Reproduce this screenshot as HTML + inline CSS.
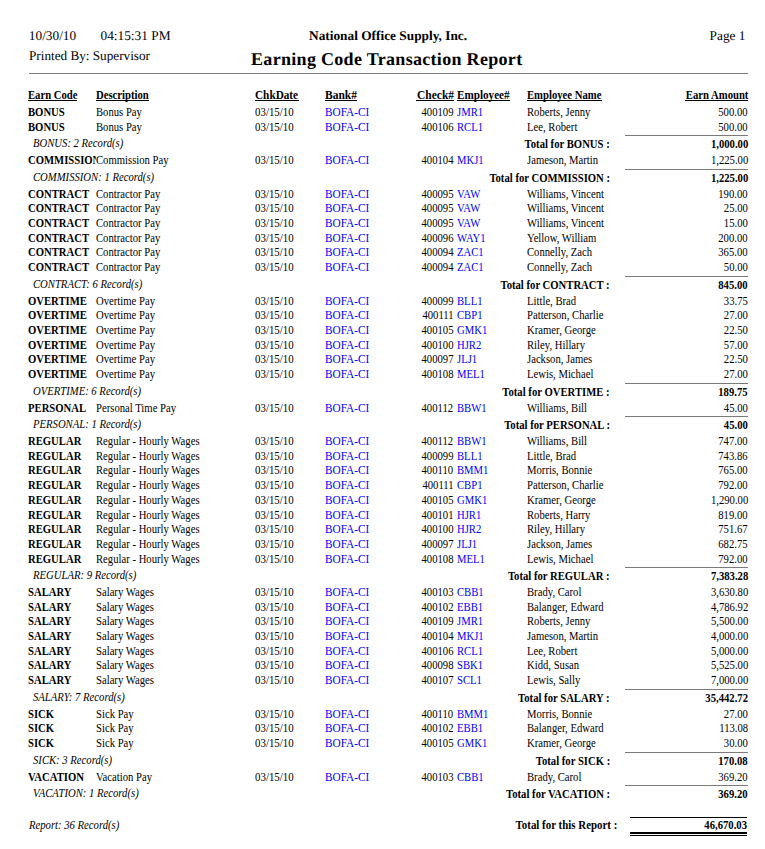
<!DOCTYPE html>
<html><head><meta charset="utf-8"><title>Earning Code Transaction Report</title>
<style>
html,body{margin:0;padding:0;background:#fff;}
body{width:765px;height:849px;position:relative;overflow:hidden;font-family:"Liberation Serif","Times New Roman",serif;color:#000;}
.t{position:absolute;white-space:nowrap;line-height:1;}
.b{font-weight:bold;}
.i{font-style:italic;}
.bl{color:#0000ff;}
.gp{text-rendering:geometricPrecision;}
.l{position:absolute;}
</style></head><body>
<div class="l" style="left:29px;top:73px;width:719px;height:1px;background:#7a7a7a"></div>
<div class="l" style="left:28px;top:100px;width:49px;height:1px;background:#000"></div>
<div class="l" style="left:96px;top:100px;width:53px;height:1px;background:#000"></div>
<div class="l" style="left:255px;top:100px;width:44px;height:1px;background:#000"></div>
<div class="l" style="left:325px;top:100px;width:32px;height:1px;background:#000"></div>
<div class="l" style="left:416px;top:100px;width:38px;height:1px;background:#000"></div>
<div class="l" style="left:457px;top:100px;width:53px;height:1px;background:#000"></div>
<div class="l" style="left:527px;top:100px;width:75px;height:1px;background:#000"></div>
<div class="l" style="left:685px;top:100px;width:63px;height:1px;background:#000"></div>
<div class="l" style="left:625px;top:135px;width:123px;height:1px;background:#7a7a7a"></div>
<div class="l" style="left:625px;top:169px;width:123px;height:1px;background:#7a7a7a"></div>
<div class="l" style="left:625px;top:276px;width:123px;height:1px;background:#7a7a7a"></div>
<div class="l" style="left:625px;top:383px;width:123px;height:1px;background:#7a7a7a"></div>
<div class="l" style="left:625px;top:416px;width:123px;height:1px;background:#7a7a7a"></div>
<div class="l" style="left:625px;top:567px;width:123px;height:1px;background:#7a7a7a"></div>
<div class="l" style="left:625px;top:689px;width:123px;height:1px;background:#7a7a7a"></div>
<div class="l" style="left:625px;top:752px;width:123px;height:1px;background:#7a7a7a"></div>
<div class="l" style="left:625px;top:785px;width:123px;height:1px;background:#7a7a7a"></div>
<div class="l" style="left:630px;top:817px;width:117px;height:1px;background:#000"></div>
<div class="l" style="left:630px;top:832px;width:117px;height:2px;background:#000"></div>
<div class="l" style="left:630px;top:835px;width:117px;height:1px;background:#000"></div>
<div class="t gp" style="left:28.80px;top:29px;font-size:13.33px;">10/30/10</div>
<div class="t gp" style="left:100.50px;top:29px;font-size:13.33px;">04:15:31 PM</div>
<div class="t gp" style="left:28.90px;top:49px;font-size:13.33px;transform:scaleX(0.9900);transform-origin:left;">Printed By: Supervisor</div>
<div class="t b gp" style="left:309.00px;top:29px;font-size:13.33px;">National Office Supply, Inc.</div>
<div class="t b gp" style="left:251.00px;top:50px;font-size:18.0px;letter-spacing:0.31px">Earning Code Transaction Report</div>
<div class="t gp" style="right:19.50px;top:29px;font-size:13.33px;">Page 1</div>
<div class="t b" style="left:28.00px;top:90px;font-size:11.5px;transform:scaleX(0.9278);transform-origin:left;">Earn Code</div>
<div class="t b" style="left:96.00px;top:90px;font-size:11.5px;transform:scaleX(0.9278);transform-origin:left;">Description</div>
<div class="t b" style="left:255.30px;top:90px;font-size:11.5px;transform:scaleX(0.9779);transform-origin:left;">ChkDate</div>
<div class="t b" style="left:325.00px;top:90px;font-size:11.5px;">Bank#</div>
<div class="t b" style="left:416.50px;top:90px;font-size:11.5px;transform:scaleX(1.0021);transform-origin:left;">Check#</div>
<div class="t b" style="left:457.20px;top:90px;font-size:11.5px;transform:scaleX(0.9687);transform-origin:left;">Employee#</div>
<div class="t b" style="left:527.20px;top:90px;font-size:11.5px;transform:scaleX(0.9278);transform-origin:left;">Employee Name</div>
<div class="t b" style="right:17.00px;top:90px;font-size:11.5px;transform:scaleX(0.9278);transform-origin:right;">Earn Amount</div>
<div class="t b" style="left:28.00px;top:107px;font-size:11.5px;transform:scaleX(0.9278);transform-origin:left;width:73.29px;overflow:hidden">BONUS</div>
<div class="t " style="left:96.00px;top:107px;font-size:11.5px;transform:scaleX(0.9278);transform-origin:left;">Bonus Pay</div>
<div class="t " style="left:254.80px;top:107px;font-size:11.5px;transform:scaleX(0.9464);transform-origin:left;">03/15/10</div>
<div class="t bl" style="left:325.00px;top:107px;font-size:11.5px;transform:scaleX(0.9789);transform-origin:left;">BOFA-CI</div>
<div class="t " style="right:311.50px;top:107px;font-size:11.5px;transform:scaleX(0.9278);transform-origin:right;">400109</div>
<div class="t bl" style="left:457.00px;top:107px;font-size:11.5px;transform:scaleX(0.9278);transform-origin:left;">JMR1</div>
<div class="t " style="left:527.20px;top:107px;font-size:11.5px;transform:scaleX(0.9278);transform-origin:left;">Roberts, Jenny</div>
<div class="t " style="right:17.00px;top:107px;font-size:11.5px;transform:scaleX(0.9278);transform-origin:right;">500.00</div>
<div class="t b" style="left:28.00px;top:122px;font-size:11.5px;transform:scaleX(0.9278);transform-origin:left;width:73.29px;overflow:hidden">BONUS</div>
<div class="t " style="left:96.00px;top:122px;font-size:11.5px;transform:scaleX(0.9278);transform-origin:left;">Bonus Pay</div>
<div class="t " style="left:254.80px;top:122px;font-size:11.5px;transform:scaleX(0.9464);transform-origin:left;">03/15/10</div>
<div class="t bl" style="left:325.00px;top:122px;font-size:11.5px;transform:scaleX(0.9789);transform-origin:left;">BOFA-CI</div>
<div class="t " style="right:311.50px;top:122px;font-size:11.5px;transform:scaleX(0.9278);transform-origin:right;">400106</div>
<div class="t bl" style="left:457.00px;top:122px;font-size:11.5px;transform:scaleX(0.9278);transform-origin:left;">RCL1</div>
<div class="t " style="left:527.20px;top:122px;font-size:11.5px;transform:scaleX(0.9278);transform-origin:left;">Lee, Robert</div>
<div class="t " style="right:17.00px;top:122px;font-size:11.5px;transform:scaleX(0.9278);transform-origin:right;">500.00</div>
<div class="t i" style="left:32.50px;top:138px;font-size:11.5px;transform:scaleX(0.9278);transform-origin:left;">BONUS: 2 Record(s)</div>
<div class="t b" style="right:155.00px;top:139px;font-size:11.5px;transform:scaleX(0.9278);transform-origin:right;">Total for BONUS :</div>
<div class="t b" style="right:17.00px;top:139px;font-size:11.5px;transform:scaleX(0.9278);transform-origin:right;">1,000.00</div>
<div class="t b" style="left:28.00px;top:155px;font-size:11.5px;transform:scaleX(0.9278);transform-origin:left;width:73.29px;overflow:hidden">COMMISSION</div>
<div class="t " style="left:96.00px;top:155px;font-size:11.5px;transform:scaleX(0.9278);transform-origin:left;">Commission Pay</div>
<div class="t " style="left:254.80px;top:155px;font-size:11.5px;transform:scaleX(0.9464);transform-origin:left;">03/15/10</div>
<div class="t bl" style="left:325.00px;top:155px;font-size:11.5px;transform:scaleX(0.9789);transform-origin:left;">BOFA-CI</div>
<div class="t " style="right:311.50px;top:155px;font-size:11.5px;transform:scaleX(0.9278);transform-origin:right;">400104</div>
<div class="t bl" style="left:457.00px;top:155px;font-size:11.5px;transform:scaleX(0.9278);transform-origin:left;">MKJ1</div>
<div class="t " style="left:527.20px;top:155px;font-size:11.5px;transform:scaleX(0.9278);transform-origin:left;">Jameson, Martin</div>
<div class="t " style="right:17.00px;top:155px;font-size:11.5px;transform:scaleX(0.9278);transform-origin:right;">1,225.00</div>
<div class="t i" style="left:32.50px;top:172px;font-size:11.5px;transform:scaleX(0.9278);transform-origin:left;">COMMISSION: 1 Record(s)</div>
<div class="t b" style="right:155.00px;top:173px;font-size:11.5px;transform:scaleX(0.9278);transform-origin:right;">Total for COMMISSION :</div>
<div class="t b" style="right:17.00px;top:173px;font-size:11.5px;transform:scaleX(0.9278);transform-origin:right;">1,225.00</div>
<div class="t b" style="left:28.00px;top:189px;font-size:11.5px;transform:scaleX(0.9278);transform-origin:left;width:73.29px;overflow:hidden">CONTRACT</div>
<div class="t " style="left:96.00px;top:189px;font-size:11.5px;transform:scaleX(0.9278);transform-origin:left;">Contractor Pay</div>
<div class="t " style="left:254.80px;top:189px;font-size:11.5px;transform:scaleX(0.9464);transform-origin:left;">03/15/10</div>
<div class="t bl" style="left:325.00px;top:189px;font-size:11.5px;transform:scaleX(0.9789);transform-origin:left;">BOFA-CI</div>
<div class="t " style="right:311.50px;top:189px;font-size:11.5px;transform:scaleX(0.9278);transform-origin:right;">400095</div>
<div class="t bl" style="left:457.00px;top:189px;font-size:11.5px;transform:scaleX(0.9278);transform-origin:left;">VAW</div>
<div class="t " style="left:527.20px;top:189px;font-size:11.5px;transform:scaleX(0.9278);transform-origin:left;">Williams, Vincent</div>
<div class="t " style="right:17.00px;top:189px;font-size:11.5px;transform:scaleX(0.9278);transform-origin:right;">190.00</div>
<div class="t b" style="left:28.00px;top:203px;font-size:11.5px;transform:scaleX(0.9278);transform-origin:left;width:73.29px;overflow:hidden">CONTRACT</div>
<div class="t " style="left:96.00px;top:203px;font-size:11.5px;transform:scaleX(0.9278);transform-origin:left;">Contractor Pay</div>
<div class="t " style="left:254.80px;top:203px;font-size:11.5px;transform:scaleX(0.9464);transform-origin:left;">03/15/10</div>
<div class="t bl" style="left:325.00px;top:203px;font-size:11.5px;transform:scaleX(0.9789);transform-origin:left;">BOFA-CI</div>
<div class="t " style="right:311.50px;top:203px;font-size:11.5px;transform:scaleX(0.9278);transform-origin:right;">400095</div>
<div class="t bl" style="left:457.00px;top:203px;font-size:11.5px;transform:scaleX(0.9278);transform-origin:left;">VAW</div>
<div class="t " style="left:527.20px;top:203px;font-size:11.5px;transform:scaleX(0.9278);transform-origin:left;">Williams, Vincent</div>
<div class="t " style="right:17.00px;top:203px;font-size:11.5px;transform:scaleX(0.9278);transform-origin:right;">25.00</div>
<div class="t b" style="left:28.00px;top:218px;font-size:11.5px;transform:scaleX(0.9278);transform-origin:left;width:73.29px;overflow:hidden">CONTRACT</div>
<div class="t " style="left:96.00px;top:218px;font-size:11.5px;transform:scaleX(0.9278);transform-origin:left;">Contractor Pay</div>
<div class="t " style="left:254.80px;top:218px;font-size:11.5px;transform:scaleX(0.9464);transform-origin:left;">03/15/10</div>
<div class="t bl" style="left:325.00px;top:218px;font-size:11.5px;transform:scaleX(0.9789);transform-origin:left;">BOFA-CI</div>
<div class="t " style="right:311.50px;top:218px;font-size:11.5px;transform:scaleX(0.9278);transform-origin:right;">400095</div>
<div class="t bl" style="left:457.00px;top:218px;font-size:11.5px;transform:scaleX(0.9278);transform-origin:left;">VAW</div>
<div class="t " style="left:527.20px;top:218px;font-size:11.5px;transform:scaleX(0.9278);transform-origin:left;">Williams, Vincent</div>
<div class="t " style="right:17.00px;top:218px;font-size:11.5px;transform:scaleX(0.9278);transform-origin:right;">15.00</div>
<div class="t b" style="left:28.00px;top:233px;font-size:11.5px;transform:scaleX(0.9278);transform-origin:left;width:73.29px;overflow:hidden">CONTRACT</div>
<div class="t " style="left:96.00px;top:233px;font-size:11.5px;transform:scaleX(0.9278);transform-origin:left;">Contractor Pay</div>
<div class="t " style="left:254.80px;top:233px;font-size:11.5px;transform:scaleX(0.9464);transform-origin:left;">03/15/10</div>
<div class="t bl" style="left:325.00px;top:233px;font-size:11.5px;transform:scaleX(0.9789);transform-origin:left;">BOFA-CI</div>
<div class="t " style="right:311.50px;top:233px;font-size:11.5px;transform:scaleX(0.9278);transform-origin:right;">400096</div>
<div class="t bl" style="left:457.00px;top:233px;font-size:11.5px;transform:scaleX(0.9278);transform-origin:left;">WAY1</div>
<div class="t " style="left:527.20px;top:233px;font-size:11.5px;transform:scaleX(0.9278);transform-origin:left;">Yellow, William</div>
<div class="t " style="right:17.00px;top:233px;font-size:11.5px;transform:scaleX(0.9278);transform-origin:right;">200.00</div>
<div class="t b" style="left:28.00px;top:247px;font-size:11.5px;transform:scaleX(0.9278);transform-origin:left;width:73.29px;overflow:hidden">CONTRACT</div>
<div class="t " style="left:96.00px;top:247px;font-size:11.5px;transform:scaleX(0.9278);transform-origin:left;">Contractor Pay</div>
<div class="t " style="left:254.80px;top:247px;font-size:11.5px;transform:scaleX(0.9464);transform-origin:left;">03/15/10</div>
<div class="t bl" style="left:325.00px;top:247px;font-size:11.5px;transform:scaleX(0.9789);transform-origin:left;">BOFA-CI</div>
<div class="t " style="right:311.50px;top:247px;font-size:11.5px;transform:scaleX(0.9278);transform-origin:right;">400094</div>
<div class="t bl" style="left:457.00px;top:247px;font-size:11.5px;transform:scaleX(0.9278);transform-origin:left;">ZAC1</div>
<div class="t " style="left:527.20px;top:247px;font-size:11.5px;transform:scaleX(0.9278);transform-origin:left;">Connelly, Zach</div>
<div class="t " style="right:17.00px;top:247px;font-size:11.5px;transform:scaleX(0.9278);transform-origin:right;">365.00</div>
<div class="t b" style="left:28.00px;top:262px;font-size:11.5px;transform:scaleX(0.9278);transform-origin:left;width:73.29px;overflow:hidden">CONTRACT</div>
<div class="t " style="left:96.00px;top:262px;font-size:11.5px;transform:scaleX(0.9278);transform-origin:left;">Contractor Pay</div>
<div class="t " style="left:254.80px;top:262px;font-size:11.5px;transform:scaleX(0.9464);transform-origin:left;">03/15/10</div>
<div class="t bl" style="left:325.00px;top:262px;font-size:11.5px;transform:scaleX(0.9789);transform-origin:left;">BOFA-CI</div>
<div class="t " style="right:311.50px;top:262px;font-size:11.5px;transform:scaleX(0.9278);transform-origin:right;">400094</div>
<div class="t bl" style="left:457.00px;top:262px;font-size:11.5px;transform:scaleX(0.9278);transform-origin:left;">ZAC1</div>
<div class="t " style="left:527.20px;top:262px;font-size:11.5px;transform:scaleX(0.9278);transform-origin:left;">Connelly, Zach</div>
<div class="t " style="right:17.00px;top:262px;font-size:11.5px;transform:scaleX(0.9278);transform-origin:right;">50.00</div>
<div class="t i" style="left:32.50px;top:279px;font-size:11.5px;transform:scaleX(0.9278);transform-origin:left;">CONTRACT: 6 Record(s)</div>
<div class="t b" style="right:155.00px;top:280px;font-size:11.5px;transform:scaleX(0.9278);transform-origin:right;">Total for CONTRACT :</div>
<div class="t b" style="right:17.00px;top:280px;font-size:11.5px;transform:scaleX(0.9278);transform-origin:right;">845.00</div>
<div class="t b" style="left:28.00px;top:296px;font-size:11.5px;transform:scaleX(0.9278);transform-origin:left;width:73.29px;overflow:hidden">OVERTIME</div>
<div class="t " style="left:96.00px;top:296px;font-size:11.5px;transform:scaleX(0.9278);transform-origin:left;">Overtime Pay</div>
<div class="t " style="left:254.80px;top:296px;font-size:11.5px;transform:scaleX(0.9464);transform-origin:left;">03/15/10</div>
<div class="t bl" style="left:325.00px;top:296px;font-size:11.5px;transform:scaleX(0.9789);transform-origin:left;">BOFA-CI</div>
<div class="t " style="right:311.50px;top:296px;font-size:11.5px;transform:scaleX(0.9278);transform-origin:right;">400099</div>
<div class="t bl" style="left:457.00px;top:296px;font-size:11.5px;transform:scaleX(0.9278);transform-origin:left;">BLL1</div>
<div class="t " style="left:527.20px;top:296px;font-size:11.5px;transform:scaleX(0.9278);transform-origin:left;">Little, Brad</div>
<div class="t " style="right:17.00px;top:296px;font-size:11.5px;transform:scaleX(0.9278);transform-origin:right;">33.75</div>
<div class="t b" style="left:28.00px;top:310px;font-size:11.5px;transform:scaleX(0.9278);transform-origin:left;width:73.29px;overflow:hidden">OVERTIME</div>
<div class="t " style="left:96.00px;top:310px;font-size:11.5px;transform:scaleX(0.9278);transform-origin:left;">Overtime Pay</div>
<div class="t " style="left:254.80px;top:310px;font-size:11.5px;transform:scaleX(0.9464);transform-origin:left;">03/15/10</div>
<div class="t bl" style="left:325.00px;top:310px;font-size:11.5px;transform:scaleX(0.9789);transform-origin:left;">BOFA-CI</div>
<div class="t " style="right:311.50px;top:310px;font-size:11.5px;transform:scaleX(0.9278);transform-origin:right;">400111</div>
<div class="t bl" style="left:457.00px;top:310px;font-size:11.5px;transform:scaleX(0.9278);transform-origin:left;">CBP1</div>
<div class="t " style="left:527.20px;top:310px;font-size:11.5px;transform:scaleX(0.9278);transform-origin:left;">Patterson, Charlie</div>
<div class="t " style="right:17.00px;top:310px;font-size:11.5px;transform:scaleX(0.9278);transform-origin:right;">27.00</div>
<div class="t b" style="left:28.00px;top:325px;font-size:11.5px;transform:scaleX(0.9278);transform-origin:left;width:73.29px;overflow:hidden">OVERTIME</div>
<div class="t " style="left:96.00px;top:325px;font-size:11.5px;transform:scaleX(0.9278);transform-origin:left;">Overtime Pay</div>
<div class="t " style="left:254.80px;top:325px;font-size:11.5px;transform:scaleX(0.9464);transform-origin:left;">03/15/10</div>
<div class="t bl" style="left:325.00px;top:325px;font-size:11.5px;transform:scaleX(0.9789);transform-origin:left;">BOFA-CI</div>
<div class="t " style="right:311.50px;top:325px;font-size:11.5px;transform:scaleX(0.9278);transform-origin:right;">400105</div>
<div class="t bl" style="left:457.00px;top:325px;font-size:11.5px;transform:scaleX(0.9278);transform-origin:left;">GMK1</div>
<div class="t " style="left:527.20px;top:325px;font-size:11.5px;transform:scaleX(0.9278);transform-origin:left;">Kramer, George</div>
<div class="t " style="right:17.00px;top:325px;font-size:11.5px;transform:scaleX(0.9278);transform-origin:right;">22.50</div>
<div class="t b" style="left:28.00px;top:340px;font-size:11.5px;transform:scaleX(0.9278);transform-origin:left;width:73.29px;overflow:hidden">OVERTIME</div>
<div class="t " style="left:96.00px;top:340px;font-size:11.5px;transform:scaleX(0.9278);transform-origin:left;">Overtime Pay</div>
<div class="t " style="left:254.80px;top:340px;font-size:11.5px;transform:scaleX(0.9464);transform-origin:left;">03/15/10</div>
<div class="t bl" style="left:325.00px;top:340px;font-size:11.5px;transform:scaleX(0.9789);transform-origin:left;">BOFA-CI</div>
<div class="t " style="right:311.50px;top:340px;font-size:11.5px;transform:scaleX(0.9278);transform-origin:right;">400100</div>
<div class="t bl" style="left:457.00px;top:340px;font-size:11.5px;transform:scaleX(0.9278);transform-origin:left;">HJR2</div>
<div class="t " style="left:527.20px;top:340px;font-size:11.5px;transform:scaleX(0.9278);transform-origin:left;">Riley, Hillary</div>
<div class="t " style="right:17.00px;top:340px;font-size:11.5px;transform:scaleX(0.9278);transform-origin:right;">57.00</div>
<div class="t b" style="left:28.00px;top:354px;font-size:11.5px;transform:scaleX(0.9278);transform-origin:left;width:73.29px;overflow:hidden">OVERTIME</div>
<div class="t " style="left:96.00px;top:354px;font-size:11.5px;transform:scaleX(0.9278);transform-origin:left;">Overtime Pay</div>
<div class="t " style="left:254.80px;top:354px;font-size:11.5px;transform:scaleX(0.9464);transform-origin:left;">03/15/10</div>
<div class="t bl" style="left:325.00px;top:354px;font-size:11.5px;transform:scaleX(0.9789);transform-origin:left;">BOFA-CI</div>
<div class="t " style="right:311.50px;top:354px;font-size:11.5px;transform:scaleX(0.9278);transform-origin:right;">400097</div>
<div class="t bl" style="left:457.00px;top:354px;font-size:11.5px;transform:scaleX(0.9278);transform-origin:left;">JLJ1</div>
<div class="t " style="left:527.20px;top:354px;font-size:11.5px;transform:scaleX(0.9278);transform-origin:left;">Jackson, James</div>
<div class="t " style="right:17.00px;top:354px;font-size:11.5px;transform:scaleX(0.9278);transform-origin:right;">22.50</div>
<div class="t b" style="left:28.00px;top:369px;font-size:11.5px;transform:scaleX(0.9278);transform-origin:left;width:73.29px;overflow:hidden">OVERTIME</div>
<div class="t " style="left:96.00px;top:369px;font-size:11.5px;transform:scaleX(0.9278);transform-origin:left;">Overtime Pay</div>
<div class="t " style="left:254.80px;top:369px;font-size:11.5px;transform:scaleX(0.9464);transform-origin:left;">03/15/10</div>
<div class="t bl" style="left:325.00px;top:369px;font-size:11.5px;transform:scaleX(0.9789);transform-origin:left;">BOFA-CI</div>
<div class="t " style="right:311.50px;top:369px;font-size:11.5px;transform:scaleX(0.9278);transform-origin:right;">400108</div>
<div class="t bl" style="left:457.00px;top:369px;font-size:11.5px;transform:scaleX(0.9278);transform-origin:left;">MEL1</div>
<div class="t " style="left:527.20px;top:369px;font-size:11.5px;transform:scaleX(0.9278);transform-origin:left;">Lewis, Michael</div>
<div class="t " style="right:17.00px;top:369px;font-size:11.5px;transform:scaleX(0.9278);transform-origin:right;">27.00</div>
<div class="t i" style="left:32.50px;top:386px;font-size:11.5px;transform:scaleX(0.9278);transform-origin:left;">OVERTIME: 6 Record(s)</div>
<div class="t b" style="right:155.00px;top:387px;font-size:11.5px;transform:scaleX(0.9278);transform-origin:right;">Total for OVERTIME :</div>
<div class="t b" style="right:17.00px;top:387px;font-size:11.5px;transform:scaleX(0.9278);transform-origin:right;">189.75</div>
<div class="t b" style="left:28.00px;top:403px;font-size:11.5px;transform:scaleX(0.9278);transform-origin:left;width:73.29px;overflow:hidden">PERSONAL</div>
<div class="t " style="left:96.00px;top:403px;font-size:11.5px;transform:scaleX(0.9278);transform-origin:left;">Personal Time Pay</div>
<div class="t " style="left:254.80px;top:403px;font-size:11.5px;transform:scaleX(0.9464);transform-origin:left;">03/15/10</div>
<div class="t bl" style="left:325.00px;top:403px;font-size:11.5px;transform:scaleX(0.9789);transform-origin:left;">BOFA-CI</div>
<div class="t " style="right:311.50px;top:403px;font-size:11.5px;transform:scaleX(0.9278);transform-origin:right;">400112</div>
<div class="t bl" style="left:457.00px;top:403px;font-size:11.5px;transform:scaleX(0.9278);transform-origin:left;">BBW1</div>
<div class="t " style="left:527.20px;top:403px;font-size:11.5px;transform:scaleX(0.9278);transform-origin:left;">Williams, Bill</div>
<div class="t " style="right:17.00px;top:403px;font-size:11.5px;transform:scaleX(0.9278);transform-origin:right;">45.00</div>
<div class="t i" style="left:32.50px;top:419px;font-size:11.5px;transform:scaleX(0.9278);transform-origin:left;">PERSONAL: 1 Record(s)</div>
<div class="t b" style="right:155.00px;top:420px;font-size:11.5px;transform:scaleX(0.9278);transform-origin:right;">Total for PERSONAL :</div>
<div class="t b" style="right:17.00px;top:420px;font-size:11.5px;transform:scaleX(0.9278);transform-origin:right;">45.00</div>
<div class="t b" style="left:28.00px;top:436px;font-size:11.5px;transform:scaleX(0.9278);transform-origin:left;width:73.29px;overflow:hidden">REGULAR</div>
<div class="t " style="left:96.00px;top:436px;font-size:11.5px;transform:scaleX(0.9278);transform-origin:left;">Regular - Hourly Wages</div>
<div class="t " style="left:254.80px;top:436px;font-size:11.5px;transform:scaleX(0.9464);transform-origin:left;">03/15/10</div>
<div class="t bl" style="left:325.00px;top:436px;font-size:11.5px;transform:scaleX(0.9789);transform-origin:left;">BOFA-CI</div>
<div class="t " style="right:311.50px;top:436px;font-size:11.5px;transform:scaleX(0.9278);transform-origin:right;">400112</div>
<div class="t bl" style="left:457.00px;top:436px;font-size:11.5px;transform:scaleX(0.9278);transform-origin:left;">BBW1</div>
<div class="t " style="left:527.20px;top:436px;font-size:11.5px;transform:scaleX(0.9278);transform-origin:left;">Williams, Bill</div>
<div class="t " style="right:17.00px;top:436px;font-size:11.5px;transform:scaleX(0.9278);transform-origin:right;">747.00</div>
<div class="t b" style="left:28.00px;top:451px;font-size:11.5px;transform:scaleX(0.9278);transform-origin:left;width:73.29px;overflow:hidden">REGULAR</div>
<div class="t " style="left:96.00px;top:451px;font-size:11.5px;transform:scaleX(0.9278);transform-origin:left;">Regular - Hourly Wages</div>
<div class="t " style="left:254.80px;top:451px;font-size:11.5px;transform:scaleX(0.9464);transform-origin:left;">03/15/10</div>
<div class="t bl" style="left:325.00px;top:451px;font-size:11.5px;transform:scaleX(0.9789);transform-origin:left;">BOFA-CI</div>
<div class="t " style="right:311.50px;top:451px;font-size:11.5px;transform:scaleX(0.9278);transform-origin:right;">400099</div>
<div class="t bl" style="left:457.00px;top:451px;font-size:11.5px;transform:scaleX(0.9278);transform-origin:left;">BLL1</div>
<div class="t " style="left:527.20px;top:451px;font-size:11.5px;transform:scaleX(0.9278);transform-origin:left;">Little, Brad</div>
<div class="t " style="right:17.00px;top:451px;font-size:11.5px;transform:scaleX(0.9278);transform-origin:right;">743.86</div>
<div class="t b" style="left:28.00px;top:465px;font-size:11.5px;transform:scaleX(0.9278);transform-origin:left;width:73.29px;overflow:hidden">REGULAR</div>
<div class="t " style="left:96.00px;top:465px;font-size:11.5px;transform:scaleX(0.9278);transform-origin:left;">Regular - Hourly Wages</div>
<div class="t " style="left:254.80px;top:465px;font-size:11.5px;transform:scaleX(0.9464);transform-origin:left;">03/15/10</div>
<div class="t bl" style="left:325.00px;top:465px;font-size:11.5px;transform:scaleX(0.9789);transform-origin:left;">BOFA-CI</div>
<div class="t " style="right:311.50px;top:465px;font-size:11.5px;transform:scaleX(0.9278);transform-origin:right;">400110</div>
<div class="t bl" style="left:457.00px;top:465px;font-size:11.5px;transform:scaleX(0.9278);transform-origin:left;">BMM1</div>
<div class="t " style="left:527.20px;top:465px;font-size:11.5px;transform:scaleX(0.9278);transform-origin:left;">Morris, Bonnie</div>
<div class="t " style="right:17.00px;top:465px;font-size:11.5px;transform:scaleX(0.9278);transform-origin:right;">765.00</div>
<div class="t b" style="left:28.00px;top:480px;font-size:11.5px;transform:scaleX(0.9278);transform-origin:left;width:73.29px;overflow:hidden">REGULAR</div>
<div class="t " style="left:96.00px;top:480px;font-size:11.5px;transform:scaleX(0.9278);transform-origin:left;">Regular - Hourly Wages</div>
<div class="t " style="left:254.80px;top:480px;font-size:11.5px;transform:scaleX(0.9464);transform-origin:left;">03/15/10</div>
<div class="t bl" style="left:325.00px;top:480px;font-size:11.5px;transform:scaleX(0.9789);transform-origin:left;">BOFA-CI</div>
<div class="t " style="right:311.50px;top:480px;font-size:11.5px;transform:scaleX(0.9278);transform-origin:right;">400111</div>
<div class="t bl" style="left:457.00px;top:480px;font-size:11.5px;transform:scaleX(0.9278);transform-origin:left;">CBP1</div>
<div class="t " style="left:527.20px;top:480px;font-size:11.5px;transform:scaleX(0.9278);transform-origin:left;">Patterson, Charlie</div>
<div class="t " style="right:17.00px;top:480px;font-size:11.5px;transform:scaleX(0.9278);transform-origin:right;">792.00</div>
<div class="t b" style="left:28.00px;top:495px;font-size:11.5px;transform:scaleX(0.9278);transform-origin:left;width:73.29px;overflow:hidden">REGULAR</div>
<div class="t " style="left:96.00px;top:495px;font-size:11.5px;transform:scaleX(0.9278);transform-origin:left;">Regular - Hourly Wages</div>
<div class="t " style="left:254.80px;top:495px;font-size:11.5px;transform:scaleX(0.9464);transform-origin:left;">03/15/10</div>
<div class="t bl" style="left:325.00px;top:495px;font-size:11.5px;transform:scaleX(0.9789);transform-origin:left;">BOFA-CI</div>
<div class="t " style="right:311.50px;top:495px;font-size:11.5px;transform:scaleX(0.9278);transform-origin:right;">400105</div>
<div class="t bl" style="left:457.00px;top:495px;font-size:11.5px;transform:scaleX(0.9278);transform-origin:left;">GMK1</div>
<div class="t " style="left:527.20px;top:495px;font-size:11.5px;transform:scaleX(0.9278);transform-origin:left;">Kramer, George</div>
<div class="t " style="right:17.00px;top:495px;font-size:11.5px;transform:scaleX(0.9278);transform-origin:right;">1,290.00</div>
<div class="t b" style="left:28.00px;top:510px;font-size:11.5px;transform:scaleX(0.9278);transform-origin:left;width:73.29px;overflow:hidden">REGULAR</div>
<div class="t " style="left:96.00px;top:510px;font-size:11.5px;transform:scaleX(0.9278);transform-origin:left;">Regular - Hourly Wages</div>
<div class="t " style="left:254.80px;top:510px;font-size:11.5px;transform:scaleX(0.9464);transform-origin:left;">03/15/10</div>
<div class="t bl" style="left:325.00px;top:510px;font-size:11.5px;transform:scaleX(0.9789);transform-origin:left;">BOFA-CI</div>
<div class="t " style="right:311.50px;top:510px;font-size:11.5px;transform:scaleX(0.9278);transform-origin:right;">400101</div>
<div class="t bl" style="left:457.00px;top:510px;font-size:11.5px;transform:scaleX(0.9278);transform-origin:left;">HJR1</div>
<div class="t " style="left:527.20px;top:510px;font-size:11.5px;transform:scaleX(0.9278);transform-origin:left;">Roberts, Harry</div>
<div class="t " style="right:17.00px;top:510px;font-size:11.5px;transform:scaleX(0.9278);transform-origin:right;">819.00</div>
<div class="t b" style="left:28.00px;top:524px;font-size:11.5px;transform:scaleX(0.9278);transform-origin:left;width:73.29px;overflow:hidden">REGULAR</div>
<div class="t " style="left:96.00px;top:524px;font-size:11.5px;transform:scaleX(0.9278);transform-origin:left;">Regular - Hourly Wages</div>
<div class="t " style="left:254.80px;top:524px;font-size:11.5px;transform:scaleX(0.9464);transform-origin:left;">03/15/10</div>
<div class="t bl" style="left:325.00px;top:524px;font-size:11.5px;transform:scaleX(0.9789);transform-origin:left;">BOFA-CI</div>
<div class="t " style="right:311.50px;top:524px;font-size:11.5px;transform:scaleX(0.9278);transform-origin:right;">400100</div>
<div class="t bl" style="left:457.00px;top:524px;font-size:11.5px;transform:scaleX(0.9278);transform-origin:left;">HJR2</div>
<div class="t " style="left:527.20px;top:524px;font-size:11.5px;transform:scaleX(0.9278);transform-origin:left;">Riley, Hillary</div>
<div class="t " style="right:17.00px;top:524px;font-size:11.5px;transform:scaleX(0.9278);transform-origin:right;">751.67</div>
<div class="t b" style="left:28.00px;top:539px;font-size:11.5px;transform:scaleX(0.9278);transform-origin:left;width:73.29px;overflow:hidden">REGULAR</div>
<div class="t " style="left:96.00px;top:539px;font-size:11.5px;transform:scaleX(0.9278);transform-origin:left;">Regular - Hourly Wages</div>
<div class="t " style="left:254.80px;top:539px;font-size:11.5px;transform:scaleX(0.9464);transform-origin:left;">03/15/10</div>
<div class="t bl" style="left:325.00px;top:539px;font-size:11.5px;transform:scaleX(0.9789);transform-origin:left;">BOFA-CI</div>
<div class="t " style="right:311.50px;top:539px;font-size:11.5px;transform:scaleX(0.9278);transform-origin:right;">400097</div>
<div class="t bl" style="left:457.00px;top:539px;font-size:11.5px;transform:scaleX(0.9278);transform-origin:left;">JLJ1</div>
<div class="t " style="left:527.20px;top:539px;font-size:11.5px;transform:scaleX(0.9278);transform-origin:left;">Jackson, James</div>
<div class="t " style="right:17.00px;top:539px;font-size:11.5px;transform:scaleX(0.9278);transform-origin:right;">682.75</div>
<div class="t b" style="left:28.00px;top:554px;font-size:11.5px;transform:scaleX(0.9278);transform-origin:left;width:73.29px;overflow:hidden">REGULAR</div>
<div class="t " style="left:96.00px;top:554px;font-size:11.5px;transform:scaleX(0.9278);transform-origin:left;">Regular - Hourly Wages</div>
<div class="t " style="left:254.80px;top:554px;font-size:11.5px;transform:scaleX(0.9464);transform-origin:left;">03/15/10</div>
<div class="t bl" style="left:325.00px;top:554px;font-size:11.5px;transform:scaleX(0.9789);transform-origin:left;">BOFA-CI</div>
<div class="t " style="right:311.50px;top:554px;font-size:11.5px;transform:scaleX(0.9278);transform-origin:right;">400108</div>
<div class="t bl" style="left:457.00px;top:554px;font-size:11.5px;transform:scaleX(0.9278);transform-origin:left;">MEL1</div>
<div class="t " style="left:527.20px;top:554px;font-size:11.5px;transform:scaleX(0.9278);transform-origin:left;">Lewis, Michael</div>
<div class="t " style="right:17.00px;top:554px;font-size:11.5px;transform:scaleX(0.9278);transform-origin:right;">792.00</div>
<div class="t i" style="left:32.50px;top:570px;font-size:11.5px;transform:scaleX(0.9278);transform-origin:left;">REGULAR: 9 Record(s)</div>
<div class="t b" style="right:155.00px;top:571px;font-size:11.5px;transform:scaleX(0.9278);transform-origin:right;">Total for REGULAR :</div>
<div class="t b" style="right:17.00px;top:571px;font-size:11.5px;transform:scaleX(0.9278);transform-origin:right;">7,383.28</div>
<div class="t b" style="left:28.00px;top:587px;font-size:11.5px;transform:scaleX(0.9278);transform-origin:left;width:73.29px;overflow:hidden">SALARY</div>
<div class="t " style="left:96.00px;top:587px;font-size:11.5px;transform:scaleX(0.9278);transform-origin:left;">Salary Wages</div>
<div class="t " style="left:254.80px;top:587px;font-size:11.5px;transform:scaleX(0.9464);transform-origin:left;">03/15/10</div>
<div class="t bl" style="left:325.00px;top:587px;font-size:11.5px;transform:scaleX(0.9789);transform-origin:left;">BOFA-CI</div>
<div class="t " style="right:311.50px;top:587px;font-size:11.5px;transform:scaleX(0.9278);transform-origin:right;">400103</div>
<div class="t bl" style="left:457.00px;top:587px;font-size:11.5px;transform:scaleX(0.9278);transform-origin:left;">CBB1</div>
<div class="t " style="left:527.20px;top:587px;font-size:11.5px;transform:scaleX(0.9278);transform-origin:left;">Brady, Carol</div>
<div class="t " style="right:17.00px;top:587px;font-size:11.5px;transform:scaleX(0.9278);transform-origin:right;">3,630.80</div>
<div class="t b" style="left:28.00px;top:602px;font-size:11.5px;transform:scaleX(0.9278);transform-origin:left;width:73.29px;overflow:hidden">SALARY</div>
<div class="t " style="left:96.00px;top:602px;font-size:11.5px;transform:scaleX(0.9278);transform-origin:left;">Salary Wages</div>
<div class="t " style="left:254.80px;top:602px;font-size:11.5px;transform:scaleX(0.9464);transform-origin:left;">03/15/10</div>
<div class="t bl" style="left:325.00px;top:602px;font-size:11.5px;transform:scaleX(0.9789);transform-origin:left;">BOFA-CI</div>
<div class="t " style="right:311.50px;top:602px;font-size:11.5px;transform:scaleX(0.9278);transform-origin:right;">400102</div>
<div class="t bl" style="left:457.00px;top:602px;font-size:11.5px;transform:scaleX(0.9278);transform-origin:left;">EBB1</div>
<div class="t " style="left:527.20px;top:602px;font-size:11.5px;transform:scaleX(0.9278);transform-origin:left;">Balanger, Edward</div>
<div class="t " style="right:17.00px;top:602px;font-size:11.5px;transform:scaleX(0.9278);transform-origin:right;">4,786.92</div>
<div class="t b" style="left:28.00px;top:616px;font-size:11.5px;transform:scaleX(0.9278);transform-origin:left;width:73.29px;overflow:hidden">SALARY</div>
<div class="t " style="left:96.00px;top:616px;font-size:11.5px;transform:scaleX(0.9278);transform-origin:left;">Salary Wages</div>
<div class="t " style="left:254.80px;top:616px;font-size:11.5px;transform:scaleX(0.9464);transform-origin:left;">03/15/10</div>
<div class="t bl" style="left:325.00px;top:616px;font-size:11.5px;transform:scaleX(0.9789);transform-origin:left;">BOFA-CI</div>
<div class="t " style="right:311.50px;top:616px;font-size:11.5px;transform:scaleX(0.9278);transform-origin:right;">400109</div>
<div class="t bl" style="left:457.00px;top:616px;font-size:11.5px;transform:scaleX(0.9278);transform-origin:left;">JMR1</div>
<div class="t " style="left:527.20px;top:616px;font-size:11.5px;transform:scaleX(0.9278);transform-origin:left;">Roberts, Jenny</div>
<div class="t " style="right:17.00px;top:616px;font-size:11.5px;transform:scaleX(0.9278);transform-origin:right;">5,500.00</div>
<div class="t b" style="left:28.00px;top:631px;font-size:11.5px;transform:scaleX(0.9278);transform-origin:left;width:73.29px;overflow:hidden">SALARY</div>
<div class="t " style="left:96.00px;top:631px;font-size:11.5px;transform:scaleX(0.9278);transform-origin:left;">Salary Wages</div>
<div class="t " style="left:254.80px;top:631px;font-size:11.5px;transform:scaleX(0.9464);transform-origin:left;">03/15/10</div>
<div class="t bl" style="left:325.00px;top:631px;font-size:11.5px;transform:scaleX(0.9789);transform-origin:left;">BOFA-CI</div>
<div class="t " style="right:311.50px;top:631px;font-size:11.5px;transform:scaleX(0.9278);transform-origin:right;">400104</div>
<div class="t bl" style="left:457.00px;top:631px;font-size:11.5px;transform:scaleX(0.9278);transform-origin:left;">MKJ1</div>
<div class="t " style="left:527.20px;top:631px;font-size:11.5px;transform:scaleX(0.9278);transform-origin:left;">Jameson, Martin</div>
<div class="t " style="right:17.00px;top:631px;font-size:11.5px;transform:scaleX(0.9278);transform-origin:right;">4,000.00</div>
<div class="t b" style="left:28.00px;top:646px;font-size:11.5px;transform:scaleX(0.9278);transform-origin:left;width:73.29px;overflow:hidden">SALARY</div>
<div class="t " style="left:96.00px;top:646px;font-size:11.5px;transform:scaleX(0.9278);transform-origin:left;">Salary Wages</div>
<div class="t " style="left:254.80px;top:646px;font-size:11.5px;transform:scaleX(0.9464);transform-origin:left;">03/15/10</div>
<div class="t bl" style="left:325.00px;top:646px;font-size:11.5px;transform:scaleX(0.9789);transform-origin:left;">BOFA-CI</div>
<div class="t " style="right:311.50px;top:646px;font-size:11.5px;transform:scaleX(0.9278);transform-origin:right;">400106</div>
<div class="t bl" style="left:457.00px;top:646px;font-size:11.5px;transform:scaleX(0.9278);transform-origin:left;">RCL1</div>
<div class="t " style="left:527.20px;top:646px;font-size:11.5px;transform:scaleX(0.9278);transform-origin:left;">Lee, Robert</div>
<div class="t " style="right:17.00px;top:646px;font-size:11.5px;transform:scaleX(0.9278);transform-origin:right;">5,000.00</div>
<div class="t b" style="left:28.00px;top:660px;font-size:11.5px;transform:scaleX(0.9278);transform-origin:left;width:73.29px;overflow:hidden">SALARY</div>
<div class="t " style="left:96.00px;top:660px;font-size:11.5px;transform:scaleX(0.9278);transform-origin:left;">Salary Wages</div>
<div class="t " style="left:254.80px;top:660px;font-size:11.5px;transform:scaleX(0.9464);transform-origin:left;">03/15/10</div>
<div class="t bl" style="left:325.00px;top:660px;font-size:11.5px;transform:scaleX(0.9789);transform-origin:left;">BOFA-CI</div>
<div class="t " style="right:311.50px;top:660px;font-size:11.5px;transform:scaleX(0.9278);transform-origin:right;">400098</div>
<div class="t bl" style="left:457.00px;top:660px;font-size:11.5px;transform:scaleX(0.9278);transform-origin:left;">SBK1</div>
<div class="t " style="left:527.20px;top:660px;font-size:11.5px;transform:scaleX(0.9278);transform-origin:left;">Kidd, Susan</div>
<div class="t " style="right:17.00px;top:660px;font-size:11.5px;transform:scaleX(0.9278);transform-origin:right;">5,525.00</div>
<div class="t b" style="left:28.00px;top:675px;font-size:11.5px;transform:scaleX(0.9278);transform-origin:left;width:73.29px;overflow:hidden">SALARY</div>
<div class="t " style="left:96.00px;top:675px;font-size:11.5px;transform:scaleX(0.9278);transform-origin:left;">Salary Wages</div>
<div class="t " style="left:254.80px;top:675px;font-size:11.5px;transform:scaleX(0.9464);transform-origin:left;">03/15/10</div>
<div class="t bl" style="left:325.00px;top:675px;font-size:11.5px;transform:scaleX(0.9789);transform-origin:left;">BOFA-CI</div>
<div class="t " style="right:311.50px;top:675px;font-size:11.5px;transform:scaleX(0.9278);transform-origin:right;">400107</div>
<div class="t bl" style="left:457.00px;top:675px;font-size:11.5px;transform:scaleX(0.9278);transform-origin:left;">SCL1</div>
<div class="t " style="left:527.20px;top:675px;font-size:11.5px;transform:scaleX(0.9278);transform-origin:left;">Lewis, Sally</div>
<div class="t " style="right:17.00px;top:675px;font-size:11.5px;transform:scaleX(0.9278);transform-origin:right;">7,000.00</div>
<div class="t i" style="left:32.50px;top:692px;font-size:11.5px;transform:scaleX(0.9278);transform-origin:left;">SALARY: 7 Record(s)</div>
<div class="t b" style="right:155.00px;top:693px;font-size:11.5px;transform:scaleX(0.9278);transform-origin:right;">Total for SALARY :</div>
<div class="t b" style="right:17.00px;top:693px;font-size:11.5px;transform:scaleX(0.9278);transform-origin:right;">35,442.72</div>
<div class="t b" style="left:28.00px;top:709px;font-size:11.5px;transform:scaleX(0.9278);transform-origin:left;width:73.29px;overflow:hidden">SICK</div>
<div class="t " style="left:96.00px;top:709px;font-size:11.5px;transform:scaleX(0.9278);transform-origin:left;">Sick Pay</div>
<div class="t " style="left:254.80px;top:709px;font-size:11.5px;transform:scaleX(0.9464);transform-origin:left;">03/15/10</div>
<div class="t bl" style="left:325.00px;top:709px;font-size:11.5px;transform:scaleX(0.9789);transform-origin:left;">BOFA-CI</div>
<div class="t " style="right:311.50px;top:709px;font-size:11.5px;transform:scaleX(0.9278);transform-origin:right;">400110</div>
<div class="t bl" style="left:457.00px;top:709px;font-size:11.5px;transform:scaleX(0.9278);transform-origin:left;">BMM1</div>
<div class="t " style="left:527.20px;top:709px;font-size:11.5px;transform:scaleX(0.9278);transform-origin:left;">Morris, Bonnie</div>
<div class="t " style="right:17.00px;top:709px;font-size:11.5px;transform:scaleX(0.9278);transform-origin:right;">27.00</div>
<div class="t b" style="left:28.00px;top:723px;font-size:11.5px;transform:scaleX(0.9278);transform-origin:left;width:73.29px;overflow:hidden">SICK</div>
<div class="t " style="left:96.00px;top:723px;font-size:11.5px;transform:scaleX(0.9278);transform-origin:left;">Sick Pay</div>
<div class="t " style="left:254.80px;top:723px;font-size:11.5px;transform:scaleX(0.9464);transform-origin:left;">03/15/10</div>
<div class="t bl" style="left:325.00px;top:723px;font-size:11.5px;transform:scaleX(0.9789);transform-origin:left;">BOFA-CI</div>
<div class="t " style="right:311.50px;top:723px;font-size:11.5px;transform:scaleX(0.9278);transform-origin:right;">400102</div>
<div class="t bl" style="left:457.00px;top:723px;font-size:11.5px;transform:scaleX(0.9278);transform-origin:left;">EBB1</div>
<div class="t " style="left:527.20px;top:723px;font-size:11.5px;transform:scaleX(0.9278);transform-origin:left;">Balanger, Edward</div>
<div class="t " style="right:17.00px;top:723px;font-size:11.5px;transform:scaleX(0.9278);transform-origin:right;">113.08</div>
<div class="t b" style="left:28.00px;top:738px;font-size:11.5px;transform:scaleX(0.9278);transform-origin:left;width:73.29px;overflow:hidden">SICK</div>
<div class="t " style="left:96.00px;top:738px;font-size:11.5px;transform:scaleX(0.9278);transform-origin:left;">Sick Pay</div>
<div class="t " style="left:254.80px;top:738px;font-size:11.5px;transform:scaleX(0.9464);transform-origin:left;">03/15/10</div>
<div class="t bl" style="left:325.00px;top:738px;font-size:11.5px;transform:scaleX(0.9789);transform-origin:left;">BOFA-CI</div>
<div class="t " style="right:311.50px;top:738px;font-size:11.5px;transform:scaleX(0.9278);transform-origin:right;">400105</div>
<div class="t bl" style="left:457.00px;top:738px;font-size:11.5px;transform:scaleX(0.9278);transform-origin:left;">GMK1</div>
<div class="t " style="left:527.20px;top:738px;font-size:11.5px;transform:scaleX(0.9278);transform-origin:left;">Kramer, George</div>
<div class="t " style="right:17.00px;top:738px;font-size:11.5px;transform:scaleX(0.9278);transform-origin:right;">30.00</div>
<div class="t i" style="left:32.50px;top:755px;font-size:11.5px;transform:scaleX(0.9278);transform-origin:left;">SICK: 3 Record(s)</div>
<div class="t b" style="right:155.00px;top:756px;font-size:11.5px;transform:scaleX(0.9278);transform-origin:right;">Total for SICK :</div>
<div class="t b" style="right:17.00px;top:756px;font-size:11.5px;transform:scaleX(0.9278);transform-origin:right;">170.08</div>
<div class="t b" style="left:28.00px;top:772px;font-size:11.5px;transform:scaleX(0.9278);transform-origin:left;width:73.29px;overflow:hidden">VACATION</div>
<div class="t " style="left:96.00px;top:772px;font-size:11.5px;transform:scaleX(0.9278);transform-origin:left;">Vacation Pay</div>
<div class="t " style="left:254.80px;top:772px;font-size:11.5px;transform:scaleX(0.9464);transform-origin:left;">03/15/10</div>
<div class="t bl" style="left:325.00px;top:772px;font-size:11.5px;transform:scaleX(0.9789);transform-origin:left;">BOFA-CI</div>
<div class="t " style="right:311.50px;top:772px;font-size:11.5px;transform:scaleX(0.9278);transform-origin:right;">400103</div>
<div class="t bl" style="left:457.00px;top:772px;font-size:11.5px;transform:scaleX(0.9278);transform-origin:left;">CBB1</div>
<div class="t " style="left:527.20px;top:772px;font-size:11.5px;transform:scaleX(0.9278);transform-origin:left;">Brady, Carol</div>
<div class="t " style="right:17.00px;top:772px;font-size:11.5px;transform:scaleX(0.9278);transform-origin:right;">369.20</div>
<div class="t i" style="left:32.50px;top:788px;font-size:11.5px;transform:scaleX(0.9278);transform-origin:left;">VACATION: 1 Record(s)</div>
<div class="t b" style="right:155.00px;top:789px;font-size:11.5px;transform:scaleX(0.9278);transform-origin:right;">Total for VACATION :</div>
<div class="t b" style="right:17.00px;top:789px;font-size:11.5px;transform:scaleX(0.9278);transform-origin:right;">369.20</div>
<div class="t i" style="left:29.40px;top:820px;font-size:11.5px;transform:scaleX(0.9278);transform-origin:left;">Report: 36 Record(s)</div>
<div class="t b" style="right:147.50px;top:820px;font-size:11.5px;transform:scaleX(0.9482);transform-origin:right;">Total for this Report :</div>
<div class="t b" style="right:18.00px;top:820px;font-size:11.5px;transform:scaleX(0.9278);transform-origin:right;">46,670.03</div>
</body></html>
